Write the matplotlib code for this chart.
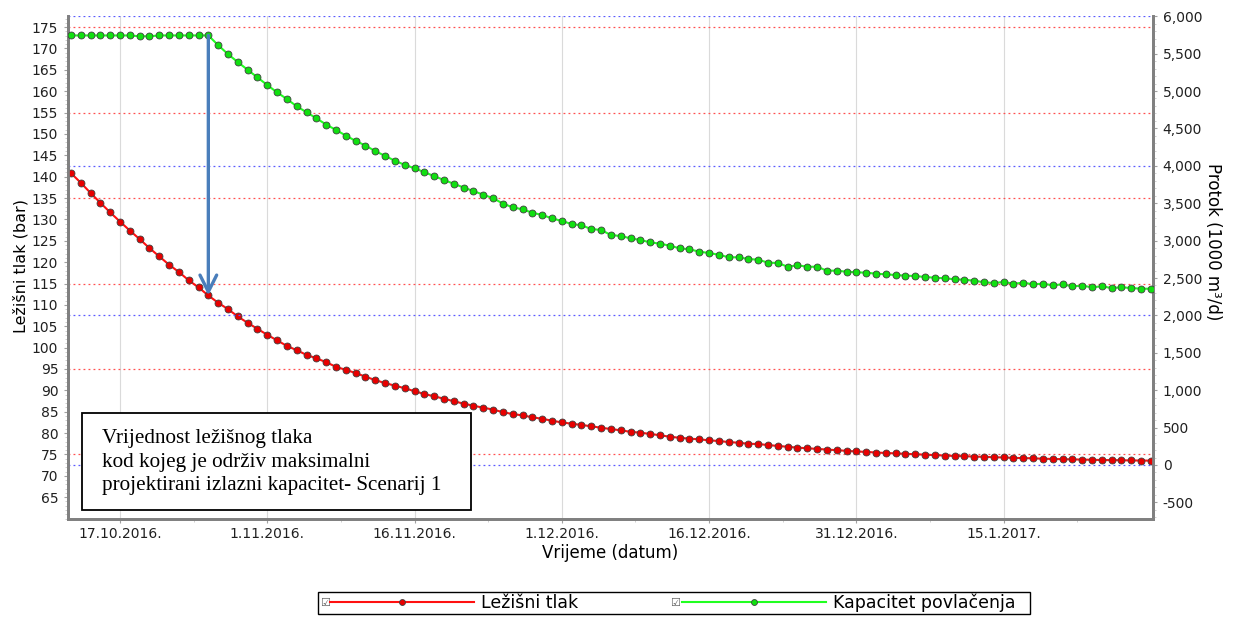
import matplotlib
matplotlib.use('Agg')
import matplotlib.pyplot as plt
import matplotlib.dates as mdates
from matplotlib.ticker import MultipleLocator, FuncFormatter
from matplotlib.patches import Rectangle
import pandas as pd

# daily values, 11.10.2016 .. 30.1.2017
dates = pd.date_range('2016-10-11', '2017-01-30', freq='D')

tlak = [143.3, 140.85, 138.6, 136.2, 133.9, 131.65, 129.5, 127.4, 125.4, 123.3,
        121.35, 119.4, 117.7, 115.75, 114.1, 112.2, 110.5, 109.0, 107.3, 105.8,
        104.4, 103.0, 101.7, 100.4, 99.4, 98.3, 97.5, 96.6, 95.5, 94.8,
        94.06, 93.2, 92.4, 91.7, 91.1, 90.5, 89.8, 89.15, 88.6, 88.05,
        87.45, 86.9, 86.4, 85.95, 85.5, 84.9, 84.45, 84.15, 83.7, 83.35,
        82.9, 82.5, 82.2, 81.9, 81.6, 81.25, 80.95, 80.65, 80.3, 80.1,
        79.8, 79.5, 79.15, 78.9, 78.7, 78.55, 78.3, 78.15, 77.9, 77.75,
        77.5, 77.45, 77.2, 77.0, 76.8, 76.6, 76.45, 76.3, 76.15, 76.0,
        75.85, 75.7, 75.6, 75.45, 75.35, 75.25, 75.15, 75.05, 74.95, 74.85,
        74.75, 74.65, 74.6, 74.5, 74.45, 74.35, 74.3, 74.2, 74.15, 74.1,
        74.0, 73.95, 73.9, 73.85, 73.8, 73.75, 73.7, 73.68, 73.65, 73.6,
        73.58, 73.55]

kapacitet = [5740, 5743, 5743, 5743, 5743, 5743, 5743, 5743, 5732, 5732,
             5743, 5743, 5743, 5743, 5743, 5743, 5613, 5493, 5387, 5284,
             5182, 5080, 4982, 4893, 4796, 4716, 4636, 4551, 4480, 4404,
             4333, 4271, 4196, 4133, 4067, 4013, 3967, 3915, 3862, 3810,
             3760, 3710, 3662, 3614, 3567, 3495, 3445, 3418, 3373, 3342,
             3298, 3262, 3222, 3204, 3155, 3142, 3075, 3061, 3031, 3008,
             2977, 2959, 2932, 2897, 2884, 2852, 2834, 2811, 2777, 2777,
             2754, 2745, 2705, 2701, 2651, 2670, 2651, 2650, 2598, 2598,
             2584, 2576, 2571, 2558, 2549, 2540, 2531, 2527, 2513, 2504,
             2496, 2483, 2477, 2464, 2443, 2433, 2447, 2424, 2437, 2416,
             2424, 2402, 2416, 2389, 2397, 2376, 2389, 2366, 2376, 2366,
             2357, 2357]

tick_dates = ['2016-10-17', '2016-11-01', '2016-11-16', '2016-12-01',
              '2016-12-16', '2016-12-31', '2017-01-15']
tick_labels = ['17.10.2016.', '1.11.2016.', '16.11.2016.', '1.12.2016.',
               '16.12.2016.', '31.12.2016.', '15.1.2017.']
red_grid = [175, 155, 135, 115, 95, 75]
blue_grid = [6000, 4000, 2000, 0]
arrow_day = '2016-10-26'
box_text = ('Vrijednost ležišnog tlaka\n'
            'kod kojeg je održiv maksimalni\n'
            'projektirani izlazni kapacitet- Scenarij 1')

fig = plt.figure(figsize=(12.34, 6.17), dpi=100)
ax = fig.add_axes([68/1234, 1-519/617, 1085/1234, 503/617])
ax2 = ax.twinx()

for v in red_grid:
    ax.axhline(v, color='#ff5050', lw=0.9, ls=(0, (1.5, 2.5)), zorder=1)
for d in tick_dates:
    ax.axvline(pd.Timestamp(d), color='#dadada', lw=0.8, zorder=0)
for v in blue_grid:
    ax2.axhline(v, color='#5a5aff', lw=0.9, ls=(0, (1.5, 2.5)), zorder=1)

l1, = ax.plot(dates, tlak, '-o', color='#ff1010', lw=1.5, ms=5.0,
              mfc='#e80000', mec='#404040', mew=0.6, zorder=3)
l2, = ax2.plot(dates, kapacitet, '-o', color='#20ff20', lw=1.5, ms=5.0,
               mfc='#10e010', mec='#404040', mew=0.6, zorder=3)

ax.set_xlim(pd.Timestamp('2016-10-11 17:00'), pd.Timestamp('2017-01-30 05:00'))
ax.set_ylim(59.9, 177.6)
ax2.set_ylim(-722, 6003)

ax.set_xticks([pd.Timestamp(d) for d in tick_dates])
ax.set_xticklabels(tick_labels)
ax.set_xticks([pd.Timestamp(d) + pd.Timedelta(days=7.5) for d in tick_dates], minor=True)
ax.set_yticks(range(65, 180, 5))
ax.yaxis.set_minor_locator(MultipleLocator(1))
ax2.set_yticks(range(-500, 6001, 500))
ax2.yaxis.set_minor_locator(MultipleLocator(100))
ax2.yaxis.set_major_formatter(FuncFormatter(lambda v, p: '{:,.0f}'.format(v)))

for a in (ax, ax2):
    a.tick_params(which='major', length=3, color='#a0a0a0', labelsize=10,
                  labelcolor='#202020', pad=4)
    a.tick_params(which='minor', length=2, color='#c8c8c8')
    for s in a.spines.values():
        s.set_color('#808080')
        s.set_linewidth(2)
    a.spines['top'].set_visible(False)
ax.tick_params(axis='x', pad=3)

ax.set_ylabel('Ležišni tlak (bar)', fontsize=11.5)
ax.yaxis.set_label_coords(-0.0365, 0.503)
ax2.set_ylabel('Protok (1000 m³/d)', fontsize=12, rotation=-90, va='center')
ax2.yaxis.set_label_coords(1.0553, 0.551)
ax.set_xlabel('Vrijeme (datum)', fontsize=12)
ax.xaxis.set_label_coords(0.5, -0.050)

# arrow from capacity drop down to pressure curve
i = list(dates).index(pd.Timestamp(arrow_day))
xd = mdates.date2num(dates[i])
ax2.annotate('', xy=(xd, tlak[i]), xycoords=ax.transData,
             xytext=(xd, kapacitet[i]), textcoords='data',
             arrowprops=dict(arrowstyle='->', color='#4a7ebb', lw=2.4,
                             mutation_scale=30, shrinkA=0, shrinkB=0),
             zorder=6)

ax2.add_patch(Rectangle((0.0129, 0.0179), 0.3585, 0.1928, transform=ax2.transAxes,
                        facecolor='white', edgecolor='black', lw=1.3, zorder=7))
ax2.text(0.0313, 0.178, box_text, transform=ax2.transAxes, va='top', ha='left',
         fontsize=15.2, family='Liberation Serif', linespacing=1.32, zorder=8)

# legend below the chart, with its own frame
fig.add_artist(Rectangle((318/1234, 1-614/617), 712/1234, 22/617,
                         transform=fig.transFigure, facecolor='white',
                         edgecolor='black', lw=1.0, zorder=1))
fig.legend(handles=[l1, l2], labels=['Ležišni tlak', 'Kapacitet povlačenja'],
           loc='center left', bbox_to_anchor=(330/1234, 1-603/617), ncol=2,
           numpoints=1, handlelength=8.3, columnspacing=6.0, fontsize=12.5,
           frameon=False, borderpad=0, borderaxespad=0, handletextpad=0.4,
           markerscale=0.85)
fig.text(325/1234, 1-603/617, '☑', fontsize=8, color='#606060', ha='center', va='center')
fig.text(675/1234, 1-603/617, '☑', fontsize=8, color='#606060', ha='center', va='center')

fig.savefig('out.png', dpi=100)
